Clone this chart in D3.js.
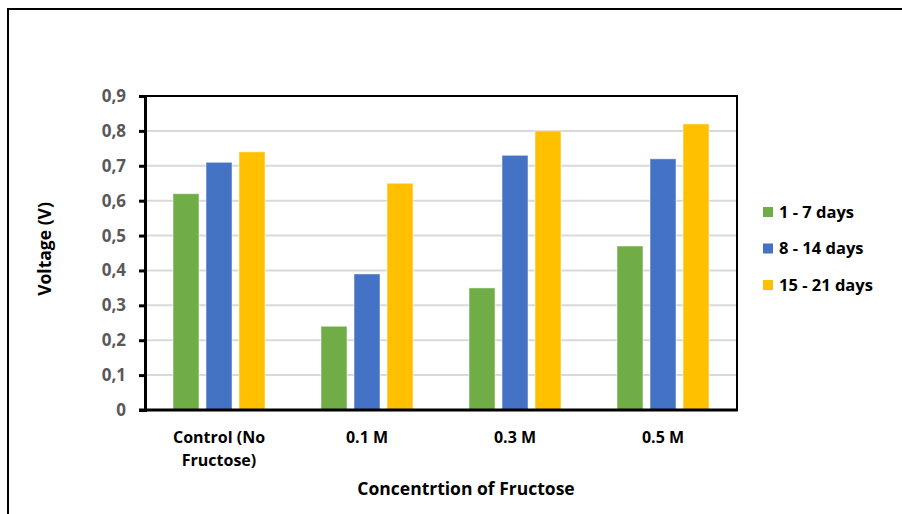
<!DOCTYPE html>
<html>
<head>
<meta charset="utf-8">
<script src="https://cdn.jsdelivr.net/npm/d3@7"></script>
<style>
  html, body { margin: 0; padding: 0; background: #fff; }
  svg { display: block; }
  text { font-family: "Open Sans", Lato, "Liberation Sans", sans-serif; font-weight: bold; }
</style>
</head>
<body>
<svg id="chart" width="902" height="514"></svg>
<script>
// Fructose concentration groups
const categories = ["Control (No Fructose)", "0.1 M", "0.3 M", "0.5 M"];
const categoryLines = [["Control (No", "Fructose)"], ["0.1 M"], ["0.3 M"], ["0.5 M"]];

// Voltage (V) per measurement period
const seriesNames = ["1 - 7 days", "8 - 14 days", "15 - 21 days"];
const days1to7 = [0.62, 0.24, 0.35, 0.47];
const days8to14 = [0.71, 0.39, 0.73, 0.72];
const days15to21 = [0.74, 0.65, 0.80, 0.82];
const seriesValues = [days1to7, days8to14, days15to21];
const seriesColors = ["#70ad47", "#4472c4", "#ffc000"];

const yTicks = [0, 0.1, 0.2, 0.3, 0.4, 0.5, 0.6, 0.7, 0.8, 0.9];
const yTickLabels = ["0", "0,1", "0,2", "0,3", "0,4", "0,5", "0,6", "0,7", "0,8", "0,9"];

const svg = d3.select("#chart");

// outer frame (runs past the right and bottom edges)
svg.append("rect")
  .attr("x", 8).attr("y", 9)
  .attr("width", 1200).attr("height", 1200)
  .attr("fill", "none").attr("stroke", "#000").attr("stroke-width", 2);

const plot = { left: 145, right: 737, top: 96, bottom: 410 };

const x = d3.scaleBand().domain(categories).range([plot.left, plot.right]).paddingInner(0).paddingOuter(0);
const y = d3.scaleLinear().domain([0, 0.9]).range([plot.bottom, plot.top]);

// horizontal gridlines
svg.append("g")
  .selectAll("line")
  .data(yTicks.filter(t => t > 0 && t < 0.9))
  .join("line")
  .attr("x1", plot.left).attr("x2", plot.right)
  .attr("y1", d => y(d)).attr("y2", d => y(d))
  .attr("stroke", "#d9d9d9").attr("stroke-width", 2);

// bars
const barW = 26, barGap = 7;
const groupW = seriesNames.length * barW + (seriesNames.length - 1) * barGap;
const barsG = svg.append("g");
seriesValues.forEach((vals, si) => {
  barsG.append("g")
    .selectAll("rect")
    .data(vals)
    .join("rect")
    .attr("x", (d, i) => x(categories[i]) + x.bandwidth() / 2 - groupW / 2 + si * (barW + barGap))
    .attr("y", d => y(d))
    .attr("width", barW)
    .attr("height", d => y(0) - y(d))
    .attr("fill", seriesColors[si])
    .attr("stroke", "#ffffff").attr("stroke-opacity", 0.5).attr("stroke-width", 1);
});

// top and right frame of the plot area
svg.append("path")
  .attr("d", `M${plot.left},${plot.top}H${plot.right}V${plot.bottom}`)
  .attr("fill", "none").attr("stroke", "#000").attr("stroke-width", 2);

// y axis
const yAxis = svg.append("g")
  .attr("transform", `translate(${plot.left},0)`)
  .call(d3.axisLeft(y).tickValues(yTicks).tickSize(6).tickPadding(13)
    .tickFormat((d, i) => yTickLabels[i]));
yAxis.select(".domain").attr("stroke", "#000").attr("stroke-width", 3);
yAxis.selectAll(".tick line").attr("stroke", "#000").attr("stroke-width", 3);
yAxis.selectAll(".tick text")
  .attr("fill", "#595959").style("font-size", "17px").style("font-weight", "bold")
  .style("font-family", "'Open Sans', Lato, sans-serif");

// x axis baseline
svg.append("line")
  .attr("x1", plot.left - 6).attr("x2", plot.right + 1)
  .attr("y1", plot.bottom).attr("y2", plot.bottom)
  .attr("stroke", "#000").attr("stroke-width", 3);

// category labels
const xl = svg.append("g");
categories.forEach((c, i) => {
  const t = xl.append("text")
    .attr("x", x(c) + x.bandwidth() / 2)
    .attr("y", 443)
    .attr("text-anchor", "middle")
    .attr("fill", "#000")
    .style("font-size", "16px");
  categoryLines[i].forEach((ln, li) => {
    t.append("tspan").attr("x", x(c) + x.bandwidth() / 2).attr("dy", li === 0 ? 0 : 23).text(ln);
  });
});

// axis titles
svg.append("text")
  .attr("x", 466).attr("y", 495)
  .attr("text-anchor", "middle").attr("fill", "#000")
  .style("font-size", "17.5px")
  .text("Concentrtion of Fructose");

svg.append("text")
  .attr("transform", "translate(51,249) rotate(-90)")
  .attr("text-anchor", "middle").attr("fill", "#000")
  .style("font-size", "17.5px")
  .text("Voltage (V)");

// legend
const legend = svg.append("g");
seriesNames.forEach((name, i) => {
  const ly = 212 + i * 36.5;
  legend.append("rect")
    .attr("x", 763).attr("y", ly - 5).attr("width", 10).attr("height", 10)
    .attr("fill", seriesColors[i]);
  legend.append("text")
    .attr("x", 779).attr("y", ly + 5.5)
    .attr("fill", "#000").style("font-size", "16.5px")
    .text(name);
});
</script>
</body>
</html>
